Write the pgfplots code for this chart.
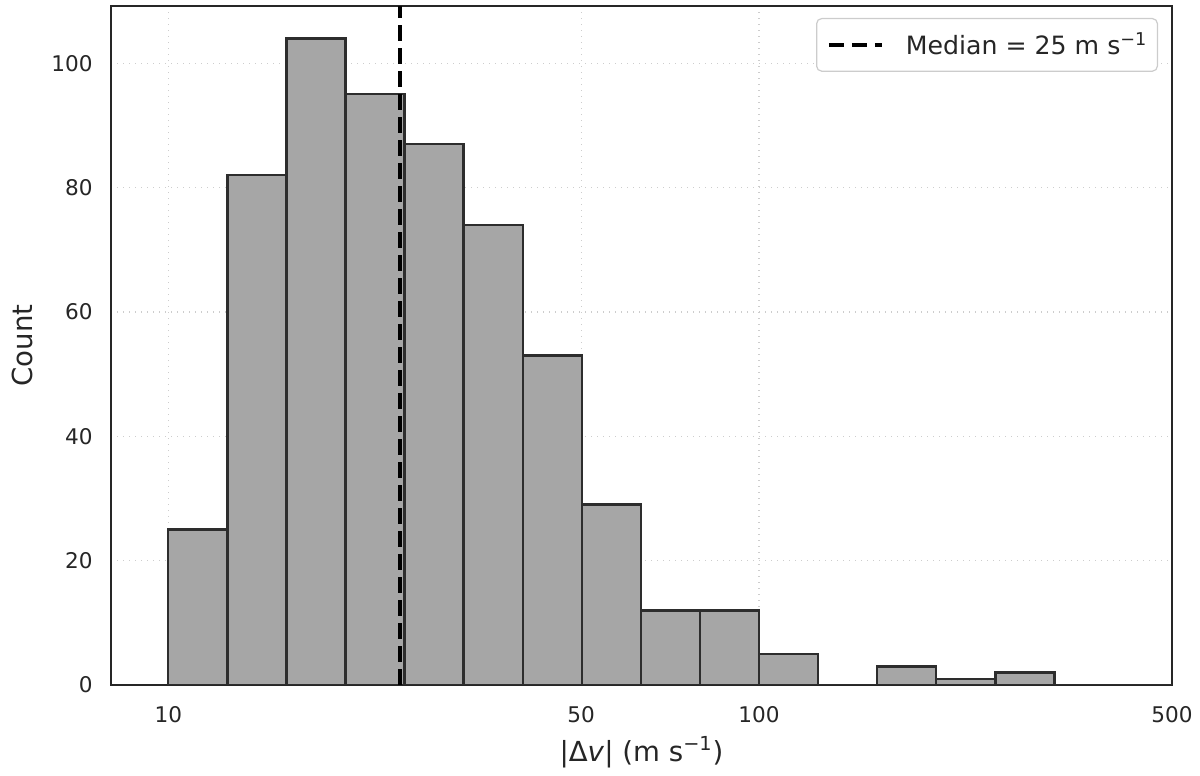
\documentclass[border=0pt]{standalone}
\usepackage{fontspec}
\setmainfont{DejaVu Sans}
\usepackage{pgfplots}
\pgfplotsset{compat=1.18}
\definecolor{barfill}{RGB}{166,166,166}
\definecolor{baredge}{RGB}{45,45,45}
\definecolor{framec}{RGB}{38,38,38}
\definecolor{gridc}{RGB}{205,205,205}
\definecolor{legedge}{RGB}{204,204,204}
\definecolor{txt}{RGB}{38,38,38}
\begin{document}
\begin{tikzpicture}
\useasboundingbox (-55.5pt,-45.5pt) rectangle (544.5pt,342.5pt);
\begin{axis}[
  at={(0,0)}, anchor=south west,
  scale only axis, width=530.5pt, height=339.5pt,
  xmode=log, log basis x=10,
  xmin=8, xmax=500, ymin=0, ymax=109.2,
  xtick={10,50,100,500}, xticklabels={10,50,100,500},
  ytick={0,20,40,60,80,100},
  major tick length=0pt, minor tick length=0pt,
  grid=major,
  major grid style={gridc, line width=0.6pt, dash pattern=on 0.6pt off 2.4pt},
  axis line style={framec, line width=1pt},
  tick label style={font=\fontsize{10.8}{13}\selectfont, text=txt, inner sep=0pt},
  /pgf/number format/assume math mode=true,
  yticklabel style={xshift=-9pt},
  xticklabel style={yshift=-10.5pt},
  xlabel={|Δ\textit{v}| (m s\textsuperscript{−1})},
  ylabel={Count},
  label style={font=\fontsize{13.8}{16}\selectfont, text=txt},
  xlabel style={at={(axis description cs:0.5,-0.0987)}, anchor=center},
  ylabel style={at={(axis description cs:-0.0839,0.5)}, anchor=center},
  legend style={at={(axis description cs:1,1)}, anchor=north east, xshift=-7pt, yshift=-6pt,
    draw=legedge, line width=0.6pt, rounded corners=2.5pt, fill=white,
    font=\fontsize{12.6}{15}\selectfont, text=txt,
    nodes={inner sep=0pt}, column sep=11pt, inner xsep=5pt, inner ysep=7pt},
  legend cell align=left,
  legend image code/.code={\draw[#1] (0pt,0pt) -- (26.5pt,0pt);},
]
\addplot[forget plot, ybar interval, fill=barfill, draw=baredge, line width=1.2pt] coordinates {
(10,25) (12.589,82) (15.849,104) (19.953,95) (25.119,87) (31.623,74) (39.811,53)
(50.119,29) (63.096,12) (79.433,12) (100,5) (125.89,0) (158.49,3) (199.53,1)
(251.19,2) (316.23,0) (398.11,0) (501.19,0)};
\addplot[black, line width=2.1pt, dash pattern=on 7.75pt off 3.75pt] coordinates {(24.66,0) (24.66,109.2)};
\addlegendentry{Median = 25 m s\textsuperscript{−1}}
\end{axis}
\end{tikzpicture}
\end{document}
